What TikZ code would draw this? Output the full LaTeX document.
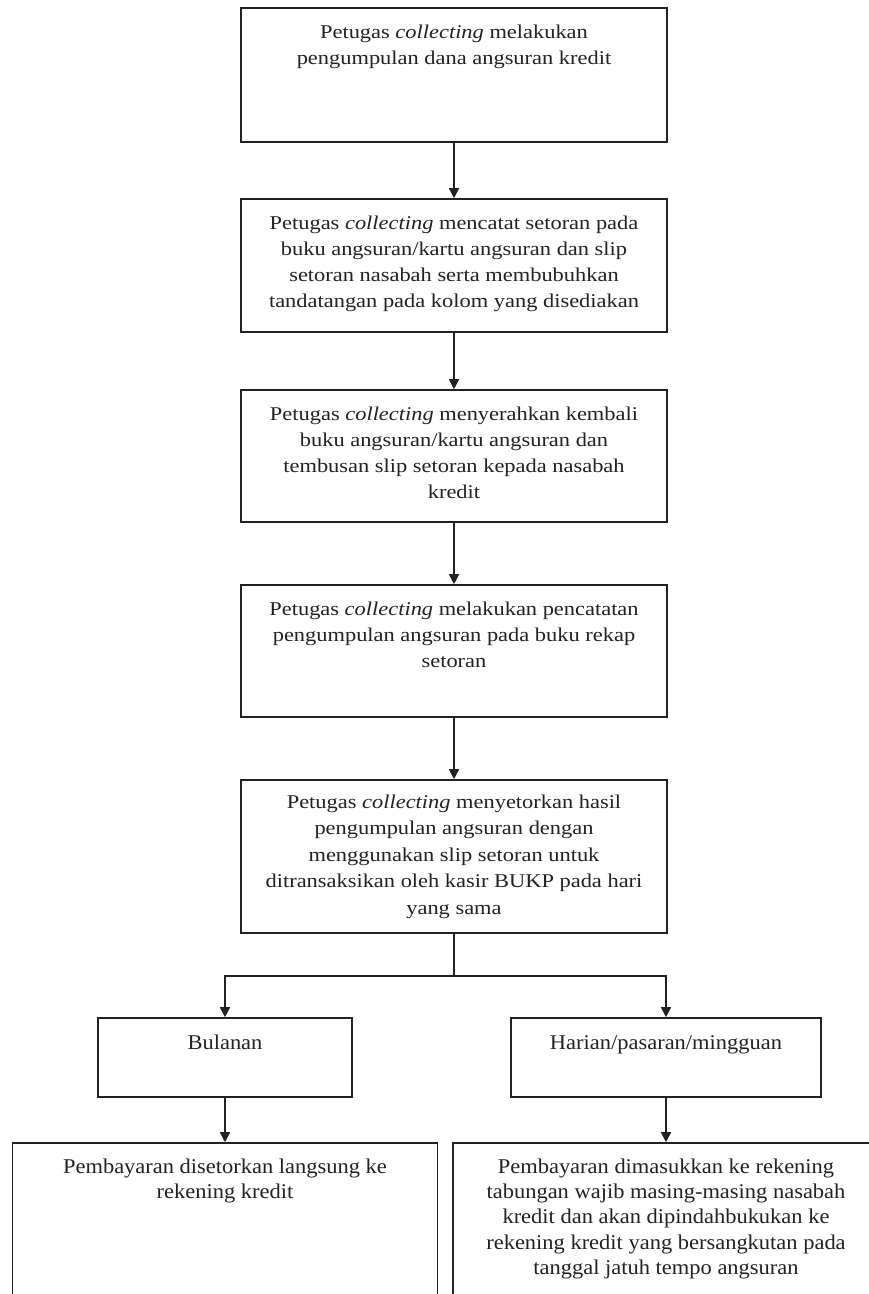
\documentclass[tikz,border=0pt]{standalone}
\usepackage{fontspec}
\setmainfont{Liberation Serif}
\newfontfamily\upperfont[FakeStretch=1.15]{Liberation Serif}
\newfontfamily\lowerfont[FakeStretch=1.07]{Liberation Serif}
\usetikzlibrary{arrows.meta}
\definecolor{ink}{HTML}{222222}
\tikzset{
  box/.style={draw=ink, line width=1.6pt, inner sep=0pt, fill=white},
  txt/.style={anchor=north, inner sep=0pt, align=center, text=ink,
    font=\upperfont\fontsize{19.5}{26}\selectfont},
  lowtxt/.style={txt, font=\lowerfont\fontsize{21}{25.3}\selectfont},
  conn/.style={draw=ink, line width=1.6pt},
  arr/.style={conn, -{Triangle[length=10pt,width=10pt]}}
}
\begin{document}
\begin{tikzpicture}[x=1pt,y=-1pt]
\clip (0,0) rectangle (869,1294);
\fill[white] (0,0) rectangle (869,1294);
% boxes
\node[box, minimum width=426pt, minimum height=134pt] (b1) at (454,75) {};
\node[box, minimum width=426pt, minimum height=133pt] (b2) at (454,265.5) {};
\node[box, minimum width=426pt, minimum height=132pt] (b3) at (454,456) {};
\node[box, minimum width=426pt, minimum height=132pt] (b4) at (454,651) {};
\node[box, minimum width=426pt, minimum height=153pt] (b5) at (454,856.5) {};
\node[box, minimum width=254pt, minimum height=79pt] (bul) at (225,1057.5) {};
\node[box, minimum width=310pt, minimum height=79pt] (har) at (666,1057.5) {};
\node[box, minimum width=425pt, minimum height=220pt] (p1) at (225,1253) {};
\node[box, minimum width=426pt, minimum height=220pt] (p2) at (666,1253) {};
% texts
\node[txt] (b1t) at ([yshift=-13pt]b1.north) {\strut Petugas \textit{collecting} melakukan\\ pengumpulan dana angsuran kredit};
\node[txt] (b2t) at ([yshift=-13pt]b2.north) {\strut Petugas \textit{collecting} mencatat setoran pada\\ buku angsuran/kartu angsuran dan slip\\ setoran nasabah serta membubuhkan\\ tandatangan pada kolom yang disediakan};
\node[txt] (b3t) at ([yshift=-13pt]b3.north) {\strut Petugas \textit{collecting} menyerahkan kembali\\ buku angsuran/kartu angsuran dan\\ tembusan slip setoran kepada nasabah\\ kredit};
\node[txt] (b4t) at ([yshift=-13pt]b4.north) {\strut Petugas \textit{collecting} melakukan pencatatan\\ pengumpulan angsuran pada buku rekap\\ setoran};
\node[txt, font=\upperfont\fontsize{19.5}{26.6}\selectfont] (b5t) at ([yshift=-10pt]b5.north) {\strut Petugas \textit{collecting} menyetorkan hasil\\ pengumpulan angsuran dengan\\ menggunakan slip setoran untuk\\ ditransaksikan oleh kasir BUKP pada hari\\ yang sama};
\node[lowtxt] (bult) at ([yshift=-14pt]bul.north) {\strut Bulanan};
\node[lowtxt] (hart) at ([yshift=-14pt]har.north) {\strut Harian/pasaran/mingguan};
\node[lowtxt] (p1t) at ([yshift=-13pt]p1.north) {\strut Pembayaran disetorkan langsung ke\\ rekening kredit};
\node[lowtxt] (p2t) at ([yshift=-13pt]p2.north) {\strut Pembayaran dimasukkan ke rekening\\ tabungan wajib masing-masing nasabah\\ kredit dan akan dipindahbukukan ke\\ rekening kredit yang bersangkutan pada\\ tanggal jatuh tempo angsuran};
% connectors
\draw[arr] (b1) -- (b2);
\draw[arr] (b2) -- (b3);
\draw[arr] (b3) -- (b4);
\draw[arr] (b4) -- (b5);
\coordinate (split) at (454,976);
\draw[conn] (b5.south) -- (split);
\draw[arr] (split) -| (bul.north);
\draw[arr] (split) -| (har.north);
\draw[arr] (bul) -- (p1);
\draw[arr] (har) -- (p2);
\end{tikzpicture}
\end{document}
